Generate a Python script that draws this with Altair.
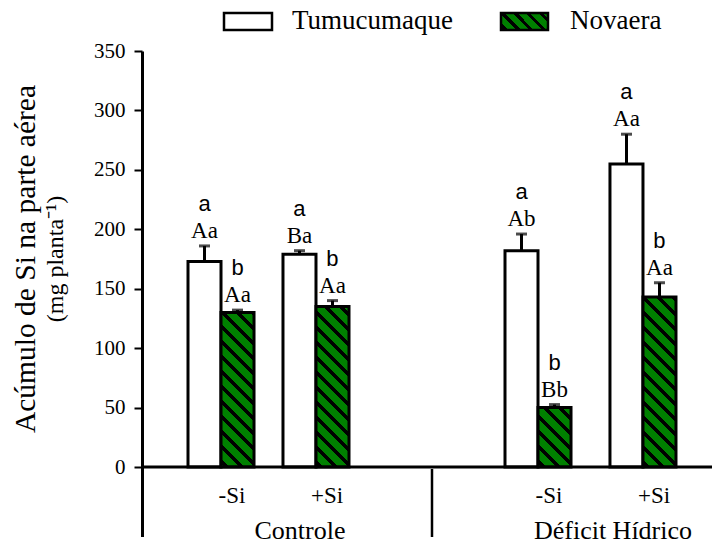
import altair as alt
import pandas as pd

# ---- data -------------------------------------------------------------
groups = ["Controle", "Controle", "Déficit Hídrico", "Déficit Hídrico"]
silicon = ["-Si", "+Si", "-Si", "+Si"]
cultivars = ["Tumucumaque", "Novaera"]

tumucumaque_mean = [173, 179, 182, 255]
tumucumaque_se = [13, 3, 14, 25]
novaera_mean = [130, 135, 50, 143]
novaera_se = [2, 5, 2.5, 12]

tumucumaque_grade = ["Aa", "Ba", "Ab", "Aa"]
tumucumaque_letter = ["a", "a", "a", "a"]
novaera_grade = ["Aa", "Aa", "Bb", "Aa"]
novaera_letter = ["b", "b", "b", "b"]

y_title = "Acúmulo de Si na parte aérea"
y_subtitle = "(mg planta⁻¹)"

# ---- layout -------------------------------------------------------------
W, H = 570, 416
Y_MAX = 350
GREEN = "#008000"
SERIF = "Liberation Serif"
SANS = "Liberation Sans"
BAR_W = 33  # one cultivar's share of a band

# band-scale settings per water regime (each regime gets its own x scale)
group_scales = {
    "Controle": dict(range=[46, 207], paddingInner=0.305, label_dx=-16),
    "Déficit Hídrico": dict(range=[363, 534], paddingInner=0.371, label_dx=-30),
}

rows = []
for i in range(len(groups)):
    slot = f"{groups[i]} {silicon[i]}"
    for cv, mean, se, grade, letter in (
        ("Tumucumaque", tumucumaque_mean, tumucumaque_se, tumucumaque_grade, tumucumaque_letter),
        ("Novaera", novaera_mean, novaera_se, novaera_grade, novaera_letter),
    ):
        rows.append(dict(slot=slot, group=groups[i], si=silicon[i], cultivar=cv,
                         mean=mean[i], upper=mean[i] + se[i],
                         grade=grade[i], letter=letter[i]))
df = pd.DataFrame(rows)

off_scale = alt.Scale(domain=cultivars, paddingInner=0, paddingOuter=0)
y_scale = alt.Scale(domain=[0, Y_MAX], nice=False, zero=True)
y_axis = alt.Axis(values=list(range(0, Y_MAX + 1, 50)), title=None, grid=False,
                  domainColor="black", domainWidth=3, tickColor="black", tickWidth=2,
                  tickSize=8, labelFont=SERIF, labelFontSize=21, labelColor="black",
                  labelPadding=9)


def hatch(h, w=BAR_W, period=15.0, line=5.0, phase=3.0):
    """Diagonal '\\' stripes as a hard-stop linear gradient over a w x h box."""
    total = w + h
    a = total * w / (w * w + h * h)
    stops = [alt.GradientStop(offset=0, color=GREEN)]
    k = 0
    while True:
        s = (k * period + phase) / total
        if s >= 1:
            break
        e = min(1.0, s + line / total)
        stops += [alt.GradientStop(offset=s, color=GREEN),
                  alt.GradientStop(offset=s, color="black"),
                  alt.GradientStop(offset=e, color="black"),
                  alt.GradientStop(offset=e, color=GREEN)]
        k += 1
    stops.append(alt.GradientStop(offset=1, color=GREEN))
    return alt.LinearGradient(gradient="linear", stops=stops,
                              x1=0, y1=1, x2=a, y2=1 - a * h / w)


def regime_layer(group):
    cfg = group_scales[group]
    g_slots = [f"{g} {s}" for g, s in zip(groups, silicon) if g == group]
    x_scale = alt.Scale(domain=g_slots, range=cfg["range"],
                        paddingInner=cfg["paddingInner"], paddingOuter=0)
    x_enc = alt.X("slot:N", scale=x_scale, axis=None)
    gdf = df[df["group"] == group]
    base = alt.Chart(gdf).encode(x=x_enc, xOffset=alt.XOffset("cultivar:N", scale=off_scale))

    white = base.transform_filter(alt.datum.cultivar == "Tumucumaque").mark_bar(
        fill="white", stroke="black", strokeWidth=3
    ).encode(y=alt.Y("mean:Q", scale=y_scale, axis=y_axis))

    greens = []
    for i, g in enumerate(groups):
        if g != group:
            continue
        slot = f"{g} {silicon[i]}"
        greens.append(
            base.transform_filter((alt.datum.cultivar == "Novaera") & (alt.datum.slot == slot))
            .mark_bar(fill=hatch(novaera_mean[i] * H / Y_MAX), stroke="black", strokeWidth=3)
            .encode(y=alt.Y("mean:Q", scale=y_scale))
        )

    rules = base.mark_rule(color="black", strokeWidth=3).encode(
        y=alt.Y("mean:Q", scale=y_scale), y2="upper:Q")
    caps = base.mark_tick(color="black", orient="horizontal", size=11, thickness=3).encode(
        y=alt.Y("upper:Q", scale=y_scale))
    grade_txt = base.mark_text(font=SERIF, fontSize=23, dy=-8, baseline="alphabetic",
                               color="black").encode(
        y=alt.Y("upper:Q", scale=y_scale), text="grade:N")
    letter_txt = base.mark_text(font=SANS, fontSize=22, dy=-35, baseline="alphabetic",
                                color="black").encode(
        y=alt.Y("upper:Q", scale=y_scale), text="letter:N")

    cat = alt.Chart(gdf).transform_filter(alt.datum.cultivar == "Tumucumaque")
    si_txt = cat.mark_text(font=SERIF, fontSize=23, dx=11, baseline="alphabetic",
                           color="black").encode(x=x_enc, y=alt.value(H + 36), text="si:N")
    grp_txt = cat.transform_filter(alt.datum.si == "+Si").mark_text(
        font=SERIF, fontSize=26, dx=cfg["label_dx"], baseline="alphabetic", color="black"
    ).encode(x=x_enc, y=alt.value(H + 72), text="group:N")

    return alt.layer(white, *greens, rules, caps, grade_txt, letter_txt, si_txt, grp_txt)


# ---- frame lines below the plot ---------------------------------------------
frame_df = pd.DataFrame({"k": [0]})
x_line = alt.Chart(frame_df).mark_rule(color="black", strokeWidth=3).encode(
    x=alt.value(0), x2=alt.value(W), y=alt.value(H))
y_ext = alt.Chart(frame_df).mark_rule(color="black", strokeWidth=3).encode(
    x=alt.value(0.5), y=alt.value(H), y2=alt.value(H + 70))
sep_line = alt.Chart(frame_df).mark_rule(color="black", strokeWidth=2.5).encode(
    x=alt.value(290), y=alt.value(H + 2), y2=alt.value(H + 70))

# ---- y title ---------------------------------------------------------------
title_df = pd.DataFrame({"t": [y_title], "s": [y_subtitle]})
title1 = alt.Chart(title_df).mark_text(angle=270, font=SERIF, fontSize=29.5, baseline="middle",
                                       color="black").encode(
    x=alt.value(-116), y=alt.value(H / 2), text="t:N")
title2 = alt.Chart(title_df).mark_text(angle=270, font=SERIF, fontSize=24, baseline="middle",
                                       color="black").encode(
    x=alt.value(-86), y=alt.value(H / 2), text="s:N")

# ---- legend ----------------------------------------------------------------
leg_df = pd.DataFrame({"name": cultivars})
leg_white = alt.Chart(leg_df).transform_filter(alt.datum.name == "Tumucumaque").mark_rect(
    fill="white", stroke="black", strokeWidth=2.5).encode(
    x=alt.value(82), x2=alt.value(130), y=alt.value(-38), y2=alt.value(-21))
leg_green = alt.Chart(leg_df).transform_filter(alt.datum.name == "Novaera").mark_rect(
    fill=hatch(17, w=48, period=13, line=4.5), stroke="black", strokeWidth=2.5).encode(
    x=alt.value(359), x2=alt.value(406), y=alt.value(-38), y2=alt.value(-21))
leg_t1 = alt.Chart(leg_df).transform_filter(alt.datum.name == "Tumucumaque").mark_text(
    font=SERIF, fontSize=27, align="left", baseline="alphabetic", color="black").encode(
    x=alt.value(150), y=alt.value(-22), text="name:N")
leg_t2 = alt.Chart(leg_df).transform_filter(alt.datum.name == "Novaera").mark_text(
    font=SERIF, fontSize=27, align="left", baseline="alphabetic", color="black").encode(
    x=alt.value(428), y=alt.value(-22), text="name:N")

bars = alt.layer(regime_layer("Controle"), regime_layer("Déficit Hídrico")).resolve_scale(
    x="independent")

chart = alt.layer(
    bars, x_line, y_ext, sep_line, title1, title2,
    leg_white, leg_green, leg_t1, leg_t2,
).properties(
    width=W, height=H,
    padding={"left": 142, "top": 51, "right": 0, "bottom": 77},
    autosize="none", background="white",
).configure_view(stroke=None)

chart.save("out.html", embed_options={"renderer": "svg", "actions": False})
